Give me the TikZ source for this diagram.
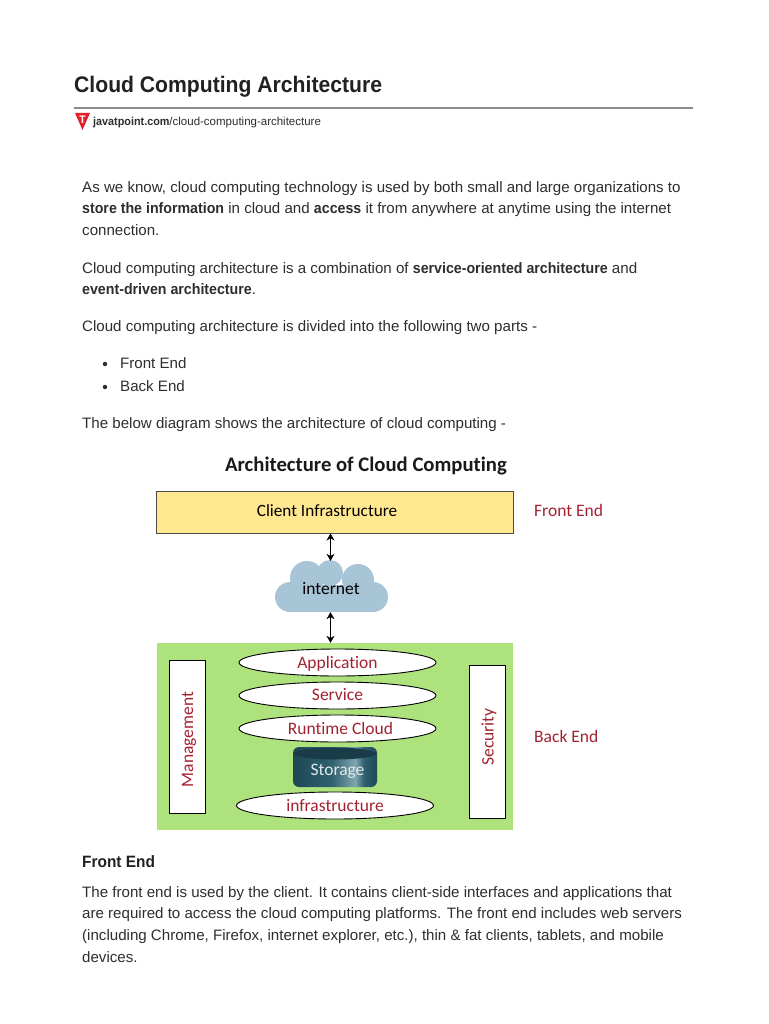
\documentclass[tikz,border=0pt]{standalone}
\usepackage{fontspec}
\setmainfont{Liberation Sans}[BoldFeatures={FakeStretch=0.94}]
\newfontfamily\diagfont{Carlito}[Ligatures=NoCommon]
\usetikzlibrary{arrows.meta,shapes.geometric}
\definecolor{inkdark}{HTML}{212121}
\definecolor{inkbody}{HTML}{2E2E2E}
\definecolor{inkred}{HTML}{A32231}
\definecolor{clientfill}{HTML}{FFE88F}
\definecolor{backfill}{HTML}{AEE27C}
\definecolor{cloudfill}{HTML}{A8C4D7}
\definecolor{storedark}{HTML}{1D4755}
\definecolor{storemid}{HTML}{2F6170}
\definecolor{storelight}{HTML}{7FA6AE}
\definecolor{logored}{HTML}{E3202A}
\pgfdeclarehorizontalshading{storeshade}{100bp}{
  color(0bp)=(storedark); color(25bp)=(storedark); color(48bp)=(storemid);
  color(62bp)=(storelight); color(67bp)=(storemid); color(75bp)=(storedark); color(100bp)=(storedark)}
\tikzset{
    pagetext/.style={
    anchor=base west,inner sep=0pt,text=inkbody,font=\fontsize{15.1}{18}\selectfont
    },
    part/.style={
    anchor=base west,inner sep=0pt,text=inkred,font=\diagfont\fontsize{17.5}{20}\selectfont
    },
    layer/.style={
    ellipse,draw=black,fill=white,line width=0.9pt,minimum width=197,minimum height=27,inner sep=0pt,
    text height=12pt,text depth=1pt,text=inkred,font=\diagfont\fontsize{17.5}{20}\selectfont
    },
    sidebar/.style={
    rectangle,draw=black,fill=white,line width=0.9pt,minimum width=36,minimum height=153,inner sep=0pt
    },
    sidetext/.style={
    rotate=90,inner sep=0pt,text=inkred,font=\diagfont\fontsize{17.5}{20}\selectfont
    },
    link/.style={
    {Stealth[length=7pt,width=8pt]}-{Stealth[length=7pt,width=8pt]},line width=0.6pt,black
    },
}
\begin{document}
\begin{tikzpicture}[x=1pt,y=-1pt]
   \useasboundingbox[fill=white] (0,0) rectangle (768,1024);

   % page heading
   \node[anchor=base west,inner sep=0pt,text=inkdark,font=\bfseries\fontsize{22.5}{26}\selectfont] (TITLE) at (74,93) {Cloud Computing Architecture};
   \draw[line width=2pt,black!45] (74,108) coordinate (RULEA) -- (693,108) coordinate (RULEB);
   \fill[logored] (75,113) -- (90,113) -- (82.5,130) -- cycle;
   \node[text=white,inner sep=0pt,font=\bfseries\fontsize{11}{11}\selectfont] (LOGOT) at (82.5,119.5) {T};
   \node[anchor=base west,inner sep=0pt,text=inkbody,font=\fontsize{11.5}{13}\selectfont] (SOURCE) at (93,126) {\textbf{javatpoint.com}/cloud-computing-architecture};

   % page text above the diagram
   \node[pagetext] (L1) at (82,193) {As we know, cloud computing technology is used by both small and large organizations to};
   \node[pagetext] (L2) at (82,214) {\textbf{store the information} in cloud and \textbf{access} it from anywhere at anytime using the internet};
   \node[pagetext] (L3) at (82,236) {connection.};
   \node[pagetext] (L4) at (82,273) {Cloud computing architecture is a combination of \textbf{service-oriented architecture} and};
   \node[pagetext] (L5) at (82,294) {\textbf{event-driven architecture}.};
   \node[pagetext] (L6) at (82,331) {Cloud computing architecture is divided into the following two parts -};
   \node[circle,fill=inkbody,inner sep=0pt,minimum size=4.5] (B1) at (105,364) {};
   \node[pagetext] (L7) at (120,368) {Front End};
   \node[circle,fill=inkbody,inner sep=0pt,minimum size=4.5] (B2) at (105,387) {};
   \node[pagetext] (L8) at (120,391) {Back End};
   \node[pagetext] (L9) at (82,428) {The below diagram shows the architecture of cloud computing -};

   % diagram
   \node[anchor=base,inner sep=0pt,text=black!90,font=\diagfont\bfseries\fontsize{20.7}{24}\selectfont] (HEAD) at (366,471) {Architecture of Cloud Computing};
   \node[rectangle,draw=black!70,fill=clientfill,line width=1pt,minimum width=357,minimum height=42,inner sep=0pt] (CLIENT) at (334.5,512) {};
   \node[inner sep=0pt,font=\diagfont\fontsize{17.2}{20}\selectfont] (CLIENTT) at (327,511) {Client Infrastructure};
   \node[part] (FRONT) at (534,516) {Front End};

   % cloud made of lobes on a flat base
   \foreach \cx/\cy/\cr in {290/597/15,307/578/17,330/573/13,358/580/16,373/597/15}
     \fill[cloudfill] (\cx,\cy) circle (\cr);
   \fill[cloudfill] (290,585) rectangle (373,612);
   \node[rectangle,minimum width=116,minimum height=51,inner sep=0pt] (NET) at (330.5,586.5) {};
   \node[inner sep=0pt,font=\diagfont\fontsize{17.5}{20}\selectfont] (NETT) at (331,589) {internet};

   \node[rectangle,fill=backfill,minimum width=356,minimum height=187,inner sep=0pt] (BACK) at (335,736.5) {};
   \node[part] (BACKEND) at (534,742) {Back End};

   \node[sidebar] (MGMT) at (187,736.5) {};
   \node[sidetext] (MGMTT) at (189,739.5) {Management};
   \node[sidebar] (SEC) at (487,741.5) {};
   \node[sidetext] (SECT) at (489,737) {Security};

   \node[layer] (APP) at (337.5,662.5) {Application};
   \node[layer] (SRV) at (337.5,695.5) {\raisebox{1pt}{Service}};
   \node[layer] (RUN) at (337.5,728.5) {\hspace*{6pt}Runtime Cloud};
   \node[rectangle,rounded corners=6pt,shading=storeshade,minimum width=84,minimum height=40,inner sep=0pt] (STORE) at (335,767) {};
   \fill[storedark!85!black] (335,753.5) ellipse (41 and 6);
   \node[inner sep=0pt,text=white!88!storedark,font=\diagfont\fontsize{17.5}{20}\selectfont] (STORET) at (337.5,771.5) {Storage};
   \node[layer] (INFRA) at (335,805.5) {infrastructure};

   \draw[link] (CLIENT.south -| NET.north) -- (NET.north);
   \draw[link] (NET.south) -- (BACK.north -| NET.south);

   % page text below the diagram
   \node[pagetext,text=inkdark,font=\bfseries\fontsize{16.4}{19}\selectfont] (SUB) at (82,867) {Front End};
   \node[pagetext] (M1) at (82,897) {The front end is used by the client. It contains client-side interfaces and applications that};
   \node[pagetext] (M2) at (82,918) {are required to access the cloud computing platforms. The front end includes web servers};
   \node[pagetext] (M3) at (82,940) {(including Chrome, Firefox, internet explorer, etc.), thin \& fat clients, tablets, and mobile};
   \node[pagetext] (M4) at (82,962) {devices.};
\end{tikzpicture}
\end{document}
